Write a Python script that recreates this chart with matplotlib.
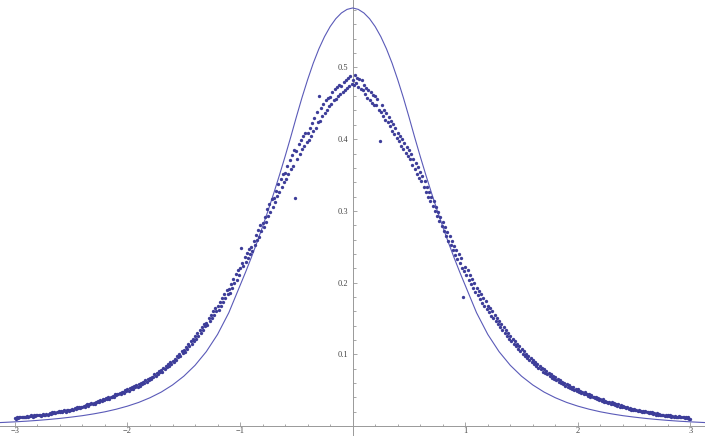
import numpy as np
import matplotlib
matplotlib.use("Agg")
import matplotlib.pyplot as plt

# ---- data -------------------------------------------------------------
# sample points: x from -3 to 3 in steps of 0.01, y in thousandths
x_start, x_stop, x_step = -3.0, 3.0, 0.01
points_left_milli = [
    11, 10, 12, 11, 12, 13, 12, 12, 13, 12,
    13, 14, 13, 14, 15, 14, 13, 15, 14, 15,
    15, 16, 15, 14, 16, 17, 16, 15, 17, 16,
    17, 18, 17, 19, 18, 19, 18, 20, 19, 21,
    20, 21, 19, 21, 22, 20, 22, 23, 21, 23,
    23, 24, 22, 25, 24, 26, 25, 27, 25, 27,
    27, 28, 27, 29, 30, 28, 31, 30, 32, 31,
    32, 31, 34, 33, 35, 33, 36, 35, 37, 36,
    37, 39, 38, 40, 38, 41, 40, 42, 41, 44,
    43, 45, 44, 46, 44, 47, 48, 46, 50, 49,
    51, 49, 53, 51, 54, 52, 56, 54, 57, 55,
    58, 56, 60, 59, 62, 60, 64, 62, 66, 64,
    67, 65, 69, 68, 72, 70, 74, 72, 77, 75,
    78, 76, 81, 79, 84, 82, 86, 84, 89, 87,
    91, 89, 94, 92, 98, 96, 100, 98, 104, 102,
    106, 103, 110, 108, 115, 111, 118, 114, 122, 119,
    125, 121, 129, 126, 134, 130, 138, 134, 142, 139,
    144, 141, 150, 146, 155, 151, 160, 155, 165, 160,
    167, 162, 173, 168, 179, 173, 184, 178, 189, 184,
    191, 186, 198, 193, 205, 199, 212, 204, 218, 211,
    220, 248, 227, 223, 235, 229, 241, 234, 247, 240,
    249, 244, 258, 252, 266, 259, 273, 264, 280, 272,
    283, 277, 292, 285, 302, 293, 309, 299, 317, 306,
    318, 312, 328, 321, 337, 327, 345, 334, 352, 340,
    353, 344, 362, 352, 371, 358, 378, 362, 385, 318,
    384, 372, 393, 380, 399, 386, 404, 390, 409, 396,
    408, 399, 416, 404, 422, 412, 430, 416, 438, 424,
    460, 426, 443, 432, 449, 437, 454, 441, 458, 446,
    459, 449, 466, 454, 470, 456, 473, 460, 476, 463,
    474, 466, 480, 469, 483, 471, 486, 474, 488, 477,
]
points_right_milli = [
    482, 476, 490, 479, 486, 473, 484, 470, 482, 468,
    475, 463, 472, 458, 469, 455, 466, 451, 462, 448,
    460, 447, 456, 441, 398, 438, 447, 432, 441, 427,
    436, 424, 431, 418, 426, 412, 421, 407, 415, 402,
    409, 397, 405, 391, 400, 386, 394, 381, 389, 377,
    385, 372, 379, 364, 373, 358, 367, 352, 361, 346,
    354, 342, 348, 334, 341, 327, 334, 320, 327, 314,
    320, 307, 314, 300, 306, 293, 299, 286, 292, 279,
    284, 272, 278, 265, 271, 258, 265, 252, 258, 246,
    251, 239, 246, 233, 240, 227, 234, 221, 180, 216,
    222, 211, 217, 204, 211, 198, 205, 193, 199, 187,
    192, 183, 188, 177, 184, 172, 179, 168, 174, 163,
    168, 159, 164, 154, 160, 150, 155, 146, 151, 142,
    146, 138, 142, 134, 138, 130, 134, 126, 130, 122,
    126, 118, 122, 114, 119, 111, 115, 108, 111, 104,
    107, 101, 104, 98, 101, 95, 98, 92, 95, 89,
    92, 87, 89, 84, 87, 81, 84, 79, 81, 76,
    79, 74, 77, 72, 74, 70, 72, 67, 70, 65,
    68, 64, 66, 62, 64, 60, 62, 58, 60, 56,
    59, 55, 57, 53, 55, 52, 54, 50, 52, 49,
    51, 48, 49, 46, 48, 45, 47, 44, 45, 42,
    44, 41, 43, 40, 41, 39, 40, 37, 39, 36,
    38, 35, 37, 34, 35, 33, 34, 32, 33, 31,
    33, 30, 32, 29, 31, 28, 30, 27, 29, 26,
    28, 26, 27, 25, 26, 24, 25, 23, 24, 22,
    24, 22, 23, 21, 22, 21, 21, 20, 21, 19,
    21, 19, 20, 18, 19, 18, 19, 17, 18, 16,
    18, 16, 17, 15, 16, 15, 16, 14, 15, 14,
    16, 14, 15, 13, 14, 13, 14, 12, 13, 12,
    14, 12, 13, 12, 13, 11, 12, 11, 12, 10,
    10,
]

# smooth curve, read at |x| positions (symmetric), y in thousandths
curve_abs_x = [0.00, 0.05, 0.10, 0.15, 0.20, 0.25, 0.30, 0.35, 0.40, 0.45,
               0.50, 0.55, 0.60, 0.65, 0.70, 0.75, 0.80, 0.85, 0.90, 0.95,
               1.00, 1.10, 1.20, 1.30, 1.40, 1.50, 1.60, 1.70, 1.80, 1.90,
               2.00, 2.10, 2.20, 2.30, 2.40, 2.50, 2.60, 2.70, 2.80, 2.90,
               3.00, 3.10, 3.13]
curve_abs_milli = [583.0, 581.0, 576.0, 568.0, 557.0, 543.0, 526.0, 506.0, 483.0, 458.0,
                   431.0, 403.0, 376.0, 350.0, 325.0, 301.0, 278.0, 256.0, 235.0, 215.0,
                   196.0, 158.0, 127.7, 103.7, 84.6, 69.4, 57.2, 47.3, 39.4, 32.9,
                   27.7, 23.4, 19.8, 16.9, 14.4, 12.4, 10.6, 9.1, 7.8, 6.7,
                   5.8, 5.0, 4.8]

x_major = [-3, -2, -1, 1, 2, 3]
x_major_labels = ["\u22123", "\u22122", "\u22121", "1", "2", "3"]
y_major = [0.1, 0.2, 0.3, 0.4, 0.5]
y_major_labels = ["0.1", "0.2", "0.3", "0.4", "0.5"]

# ---- build ----------------------------------------------------------------
n_pts = int(round((x_stop - x_start) / x_step)) + 1
px = x_start + x_step * np.arange(n_pts)
py = np.array(points_left_milli + points_right_milli) / 1000.0

cx_abs = np.array(curve_abs_x)
cy_abs = np.array(curve_abs_milli) / 1000.0
cx = np.concatenate([-cx_abs[::-1], cx_abs[1:]])
cy = np.concatenate([cy_abs[::-1], cy_abs[1:]])

fig = plt.figure(figsize=(7.05, 4.36), dpi=100)
ax = fig.add_axes([0, 0, 1, 1])
ax.set_xlim(-3.132, 3.129)
ax.set_ylim(-0.01395, 0.5941)

ax.plot(cx, cy, color="#5a5ab8", lw=0.8, zorder=3, solid_joinstyle="round")
ax.plot(px, py, "o", ms=2.4, color="#3d3d99", mec="none", zorder=4)

for side in ["top", "right"]:
    ax.spines[side].set_visible(False)
ax.spines["left"].set_position(("data", 0))
ax.spines["bottom"].set_position(("data", 0))
for side in ["left", "bottom"]:
    ax.spines[side].set_color("#999999")
    ax.spines[side].set_linewidth(0.7)
    ax.spines[side].set_zorder(1)

ax.set_xticks(x_major)
ax.set_xticklabels(x_major_labels)
ax.set_yticks(y_major)
ax.set_yticklabels(y_major_labels)
ax.set_xticks([v / 5 for v in range(-15, 16) if v % 5 != 0], minor=True)
ax.set_yticks([v / 50 for v in range(1, 30) if v % 5 != 0], minor=True)

ax.tick_params(which="both", direction="in", color="#999999", width=0.6,
               labelsize=6, labelcolor="#444444")
ax.tick_params(which="major", length=3.2)
ax.tick_params(axis="x", which="major", pad=1.0)
ax.tick_params(axis="y", which="major", pad=3)
ax.tick_params(which="minor", length=1.8)
for lab in ax.get_xticklabels() + ax.get_yticklabels():
    lab.set_fontfamily("Liberation Serif")

fig.savefig("out.png", dpi=100)
